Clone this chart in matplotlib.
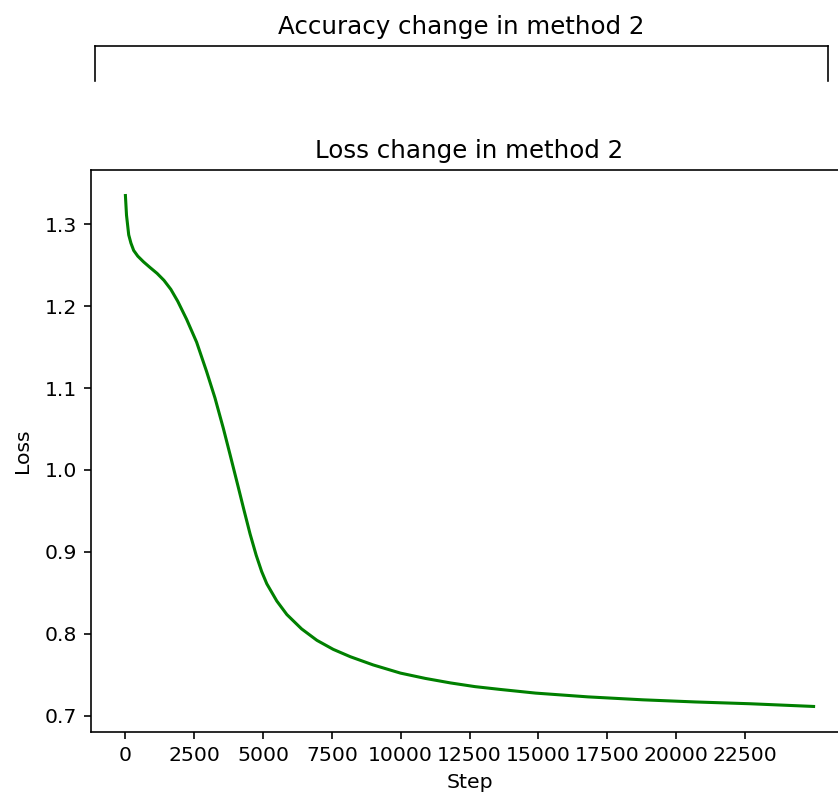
import numpy as np
import matplotlib
matplotlib.use('Agg')
import matplotlib.pyplot as plt

# training loss of method 2, sampled along the run
steps = [0, 40, 120, 200, 300, 450, 660, 900, 1150, 1400, 1650, 1900, 2222,
         2587, 2951, 3253, 3556, 3800, 3920, 4100, 4300, 4528, 4750, 4950,
         5137, 5500, 5865, 6400, 6958, 7550, 8172, 9000, 9993, 10900, 11814,
         12700, 13636, 14903, 16800, 18798, 20700, 22696, 25000]
loss = [1.335, 1.311, 1.287, 1.277, 1.268, 1.261, 1.254, 1.247, 1.240, 1.2315,
        1.2205, 1.206, 1.184, 1.156, 1.120, 1.088, 1.051, 1.019, 1.003, 0.979,
        0.952, 0.922, 0.896, 0.876, 0.861, 0.840, 0.8235, 0.806, 0.792, 0.781,
        0.772, 0.762, 0.752, 0.7455, 0.740, 0.7355, 0.732, 0.7276, 0.723,
        0.7194, 0.7168, 0.7146, 0.7113]

W, H, DPI = 838, 797, 147
fig = plt.figure(figsize=(W / DPI, H / DPI), dpi=DPI)

# accuracy panel, only its top edge is shown
ax_acc = fig.add_axes([95/W, 1 - 81/H, 733/W, 35/H])
ax_acc.set_title('Accuracy change in method 2')
ax_acc.spines['bottom'].set_visible(False)
ax_acc.set_xticks([])
ax_acc.set_yticks([])

ax = fig.add_axes([91/W, 1 - 732/H, 757/W, 562/H])
ax.plot(steps, loss, color='g', linewidth=1.5)
ax.set_title('Loss change in method 2')
ax.set_xlabel('Step')
ax.set_ylabel('Loss', labelpad=6)
ax.set_xticks(np.arange(0, 25000, 2500))

fig.savefig('out.png', dpi=DPI)
